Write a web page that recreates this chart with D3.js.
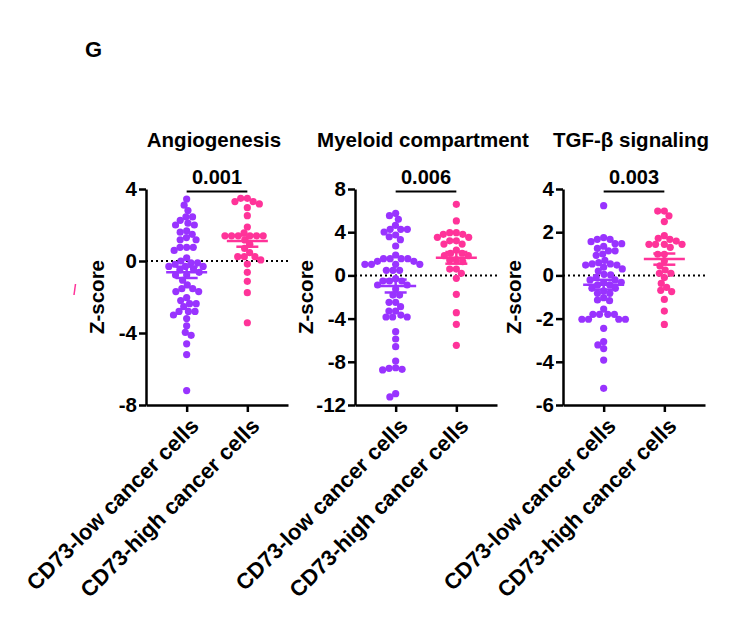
<!DOCTYPE html>
<html>
<head>
<meta charset="utf-8">
<script src="https://cdn.jsdelivr.net/npm/d3@7"></script>
<style>
  html, body { margin: 0; padding: 0; background: #fff; }
  svg { display: block; }
  text { font-family: "Liberation Sans", Arial, sans-serif; font-weight: bold; fill: #000; }
</style>
</head>
<body>
<svg id="chart" width="737" height="628"></svg>
<script>
// ---------------- DATA ----------------
const categories = ["CD73-low cancer cells", "CD73-high cancer cells"];
const panelTitles = ["Angiogenesis", "Myeloid compartment", "TGF-\u03b2 signaling"];
const pValues = ["0.001", "0.006", "0.003"];
const yDomains = [[-8, 4], [-12, 8], [-6, 4]];
const yTickValues = [[-8, -4, 0, 4], [-12, -8, -4, 0, 4, 8], [-6, -4, -2, 0, 2, 4]];
const groupColors = ["#9933ff", "#ff3399"];

const angiogenesisLow = [3.44, 3.1, 2.8, 2.45, 2.45, 2.26, 2.1, 2.0, 2.0, 1.68, 1.6, 1.48, 1.3, 1.18, 1.18,
  0.76, 0.76, 0.76, 0.59, 0.18, 0, -0.1, -0.1, -0.18, -0.3, -0.3, -0.3, -0.44, -0.5, -0.63, -0.78, -0.78,
  -1.07, -1.33, -1.54, -1.54, -1.7, -1.7, -2.04, -2.2, -2.37, -2.37, -2.54, -2.8, -2.8, -2.8, -3.0, -3.2,
  -3.6, -3.96, -4.13, -4.6, -5.2, -7.2];
const angiogenesisHigh = [3.48, 3.48, 3.3, 3.3, 3.17, 2.96, 2.52, 1.89, 1.57, 1.4, 1.4, 1.4, 1.4, 1.4, 1.4,
  1.17, 0.93, 0.7, 0.46, 0.24, 0.24, 0.24, 0.06, -0.17, -0.63, -1.13, -1.76, -3.43];

const myeloidLow = [5.75, 5.53, 5.19, 4.64, 4.27, 4.27, 4.27, 4.02, 3.74, 3.58, 3.31, 2.72, 1.89, 1.55, 1.55,
  1.55, 1.55, 1.3, 1.3, 1.03, 1.03, 1.03, 1.03, 0.47, 0.47, 0.47, -0.3, -0.52, -0.52, -0.52, -0.89, -0.89,
  -1.26, -1.82, -1.82, -2.49, -2.49, -2.9, -3.3, -3.3, -3.67, -3.85, -3.85, -3.85, -5.21, -5.89, -6.6,
  -7.93, -8.55, -8.6, -8.7, -8.75, -10.95, -11.25];
const myeloidHigh = [6.58, 5.04, 3.96, 3.96, 3.8, 3.8, 3.53, 3.53, 3.2, 3.2, 2.9, 2.9, 2.35, 2.05, 2.05,
  1.83, 1.83, 1.43, 1.43, 1.27, 0.59, 0.59, 0.19, -0.27, -1.75, -3.45, -4.53, -6.47];

const tgfbLow = [3.23, 1.75, 1.67, 1.67, 1.56, 1.47, 1.47, 1.35, 1.25, 1.14, 1.14, 0.99, 0.93, 0.7, 0.59,
  0.53, 0.53, 0.48, 0.48, 0.38, 0.3, 0.2, 0.05, 0.02, -0.09, -0.21, -0.21, -0.32, -0.32, -0.44, -0.44,
  -0.6, -0.6, -0.72, -0.83, -0.83, -1.03, -1.14, -1.17, -1.56, -1.8, -1.8, -1.8, -1.8, -2.03, -2.03,
  -2.03, -2.03, -2.45, -3.07, -3.22, -3.39, -3.92, -5.23];
const tgfbHigh = [2.98, 2.98, 2.76, 2.49, 1.84, 1.72, 1.67, 1.59, 1.44, 1.44, 1.44, 1.44, 1.3, 0.98, 0.98,
  0.67, 0.44, 0.25, 0.1, 0.1, -0.1, -0.37, -0.55, -0.69, -0.75, -1.11, -1.65, -2.27];

const panelSeries = [[angiogenesisLow, angiogenesisHigh], [myeloidLow, myeloidHigh], [tgfbLow, tgfbHigh]];

// ---------------- LAYOUT ----------------
const svg = d3.select("#chart");
svg.append("rect").attr("width", 737).attr("height", 628).attr("fill", "#fff");

const panelLeft = [146, 355, 563];
const axisLen = 142;
const yTop = 189, yBottom = 405;
const dotR = 3.6;

svg.append("text").attr("x", 85).attr("y", 57).style("font-size", "22px").text("G");
// small stray mark present in the reference
svg.append("line").attr("x1", 74).attr("y1", 295).attr("x2", 75.5).attr("y2", 284)
  .attr("stroke", "#ff3399").attr("stroke-width", 1.5);

function swarm(values, y, r) {
  const order = d3.range(values.length).sort((a, b) => values[b] - values[a]);
  const placed = [];
  const offsets = new Array(values.length);
  const d = 2 * r * 0.92;
  order.forEach(i => {
    const yy = y(values[i]);
    const intervals = [];
    placed.forEach(p => {
      const dy = Math.abs(p.y - yy);
      if (dy < d) {
        const dx = Math.sqrt(d * d - dy * dy);
        intervals.push([p.x - dx, p.x + dx]);
      }
    });
    const cands = [0];
    intervals.forEach(iv => cands.push(iv[0], iv[1]));
    cands.sort((a, b) => Math.abs(a) - Math.abs(b) || a - b);
    let best = 0;
    for (const c of cands) {
      if (intervals.every(iv => c <= iv[0] + 1e-6 || c >= iv[1] - 1e-6)) { best = c; break; }
    }
    offsets[i] = best;
    placed.push({ x: best, y: yy });
  });
  return offsets;
}

panelSeries.forEach((series, pi) => {
  const x0 = panelLeft[pi];
  const g = svg.append("g");
  const y = d3.scaleLinear().domain(yDomains[pi]).range([yBottom, yTop]);
  const x = d3.scalePoint().domain(categories).range([x0, x0 + axisLen]).padding(0.67);

  // zero dotted line
  g.append("line").attr("x1", x0).attr("x2", x0 + axisLen)
    .attr("y1", y(0)).attr("y2", y(0))
    .attr("stroke", "#000").attr("stroke-width", 2).attr("stroke-dasharray", "2,3");

  // y axis
  const ya = g.append("g").attr("transform", `translate(${x0},0)`)
    .call(d3.axisLeft(y).tickValues(yTickValues[pi]).tickSize(7).tickSizeOuter(0).tickFormat(d => String(d)));
  ya.select(".domain").attr("stroke-width", 2.5);
  ya.selectAll(".tick line").attr("stroke-width", 2.5);
  ya.selectAll(".tick text").attr("x", -9).style("font-size", "20.5px")
    .style("font-family", "'Liberation Sans', Arial, sans-serif").style("font-weight", "bold");

  // x axis
  const xa = g.append("g").attr("transform", `translate(0,${yBottom})`)
    .call(d3.axisBottom(x).tickSize(7).tickSizeOuter(0));
  xa.select(".domain").attr("stroke-width", 2.5);
  xa.selectAll(".tick line").attr("stroke-width", 2.5);
  xa.selectAll(".tick text").remove();
  categories.forEach(c => {
    g.append("text")
      .attr("transform", `translate(${x(c) + 8},${yBottom + 17}) rotate(-45)`)
      .attr("text-anchor", "end").attr("dy", "0.35em")
      .style("font-size", "22px").text(c);
  });

  // axis title
  g.append("text")
    .attr("transform", `translate(${x0 - 42},${(yTop + yBottom) / 2}) rotate(-90)`)
    .attr("text-anchor", "middle").style("font-size", "20.5px").text("Z-score");

  // panel title
  g.append("text").attr("x", x0 + 68).attr("y", 147).attr("text-anchor", "middle")
    .style("font-size", "20.5px").text(panelTitles[pi]);

  // p-value bracket
  g.append("line").attr("x1", x(categories[0])).attr("x2", x(categories[1]))
    .attr("y1", 191.5).attr("y2", 191.5).attr("stroke", "#000").attr("stroke-width", 2);
  g.append("text").attr("x", (x(categories[0]) + x(categories[1])) / 2).attr("y", 184)
    .attr("text-anchor", "middle").style("font-size", "20px").text(pValues[pi]);

  // dots + mean ± SEM
  series.forEach((vals, gi) => {
    const cx = x(categories[gi]);
    const col = groupColors[gi];
    const offs = swarm(vals, y, dotR);
    g.append("g").selectAll("circle").data(vals).join("circle")
      .attr("cx", (d, i) => cx + offs[i]).attr("cy", d => y(d))
      .attr("r", dotR).attr("fill", col);
    const m = d3.mean(vals);
    const sem = d3.deviation(vals) / Math.sqrt(vals.length);
    g.append("line").attr("x1", cx - 20.5).attr("x2", cx + 20.5).attr("y1", y(m)).attr("y2", y(m))
      .attr("stroke", col).attr("stroke-width", 2.5);
    g.append("line").attr("x1", cx).attr("x2", cx).attr("y1", y(m + sem)).attr("y2", y(m - sem))
      .attr("stroke", col).attr("stroke-width", 2.5);
    [m + sem, m - sem].forEach(v => {
      g.append("line").attr("x1", cx - 11).attr("x2", cx + 11).attr("y1", y(v)).attr("y2", y(v))
        .attr("stroke", col).attr("stroke-width", 2.5);
    });
  });
});
</script>
</body>
</html>
